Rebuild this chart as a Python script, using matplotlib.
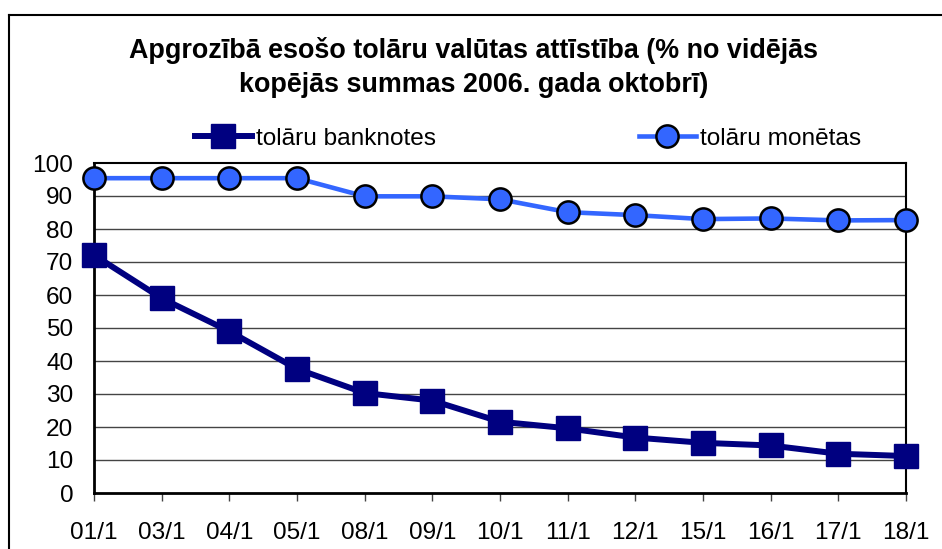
import matplotlib
matplotlib.use('Agg')
import matplotlib.pyplot as plt
from matplotlib.lines import Line2D

# Datos
fechas = ['01/1', '03/1', '04/1', '05/1', '08/1', '09/1', '10/1',
          '11/1', '12/1', '15/1', '16/1', '17/1', '18/1']
banknotes = [72.1, 59.0, 49.0, 37.6, 30.3, 28.0, 21.6, 19.6, 16.8, 15.2, 14.4, 11.9, 11.2]
monetas = [95.4, 95.4, 95.4, 95.4, 89.9, 89.9, 89.0, 85.1, 84.2, 83.0, 83.2, 82.6, 82.7]
y_ticks = list(range(0, 101, 10))

plt.rcParams['font.family'] = ['Liberation Sans', 'DejaVu Sans']

fig = plt.figure(figsize=(9.42, 5.49), dpi=100)
ax = fig.add_axes([94/942, 56/549, 812/942, 330/549])

x = list(range(len(fechas)))

# Líneas de cuadrícula
for v in y_ticks[1:-1]:
    ax.axhline(v, color='#444444', linewidth=1.0, zorder=1)

ax.plot(x, banknotes, color='#000080', linewidth=4.3, marker='s', markersize=17,
        markerfacecolor='#000080', markeredgecolor='#000080', label='tolāru banknotes',
        clip_on=False, zorder=3)
ax.plot(x, monetas, color='#3366FF', linewidth=3.3, marker='o', markersize=16,
        markerfacecolor='#3366FF', markeredgecolor='black', markeredgewidth=1.8,
        label='tolāru monētas', clip_on=False, zorder=4)

ax.set_xlim(0, len(fechas) - 1)
ax.set_ylim(0, 100)
ax.set_yticks(y_ticks)
ax.set_xticks(x)
ax.set_xticklabels(fechas)
ax.tick_params(axis='y', length=0, pad=15, labelsize=17.6)
ax.tick_params(axis='x', length=6, width=1, color='#444444', direction='out', pad=15, labelsize=17.6)

for lado in ['left', 'bottom']:
    ax.spines[lado].set_linewidth(2.0)
for lado in ['top', 'right']:
    ax.spines[lado].set_linewidth(1.5)

# Título
fig.text(0.503, (549 - 68) / 549,
         'Apgrozībā esošo tolāru valūtas attīstība (% no vidējās\nkopējās summas 2006. gada oktobrī)',
         ha='center', va='center', fontsize=19.4, fontweight='bold', linespacing=1.4)

# Leyenda
ax.legend(loc='center', bbox_to_anchor=(0.535, 1.073), ncol=2, frameon=False,
          fontsize=17.6, handlelength=2.3, handletextpad=0.2, columnspacing=8.3,
          borderaxespad=0)

# Marco exterior
fig.add_artist(Line2D([9/942, 9/942], [0, (549 - 15)/549], color='black', linewidth=1.5,
                      transform=fig.transFigure))
fig.add_artist(Line2D([9/942, 1], [(549 - 15)/549, (549 - 15)/549], color='black', linewidth=1.5,
                      transform=fig.transFigure))

fig.savefig('out.png', dpi=100)
